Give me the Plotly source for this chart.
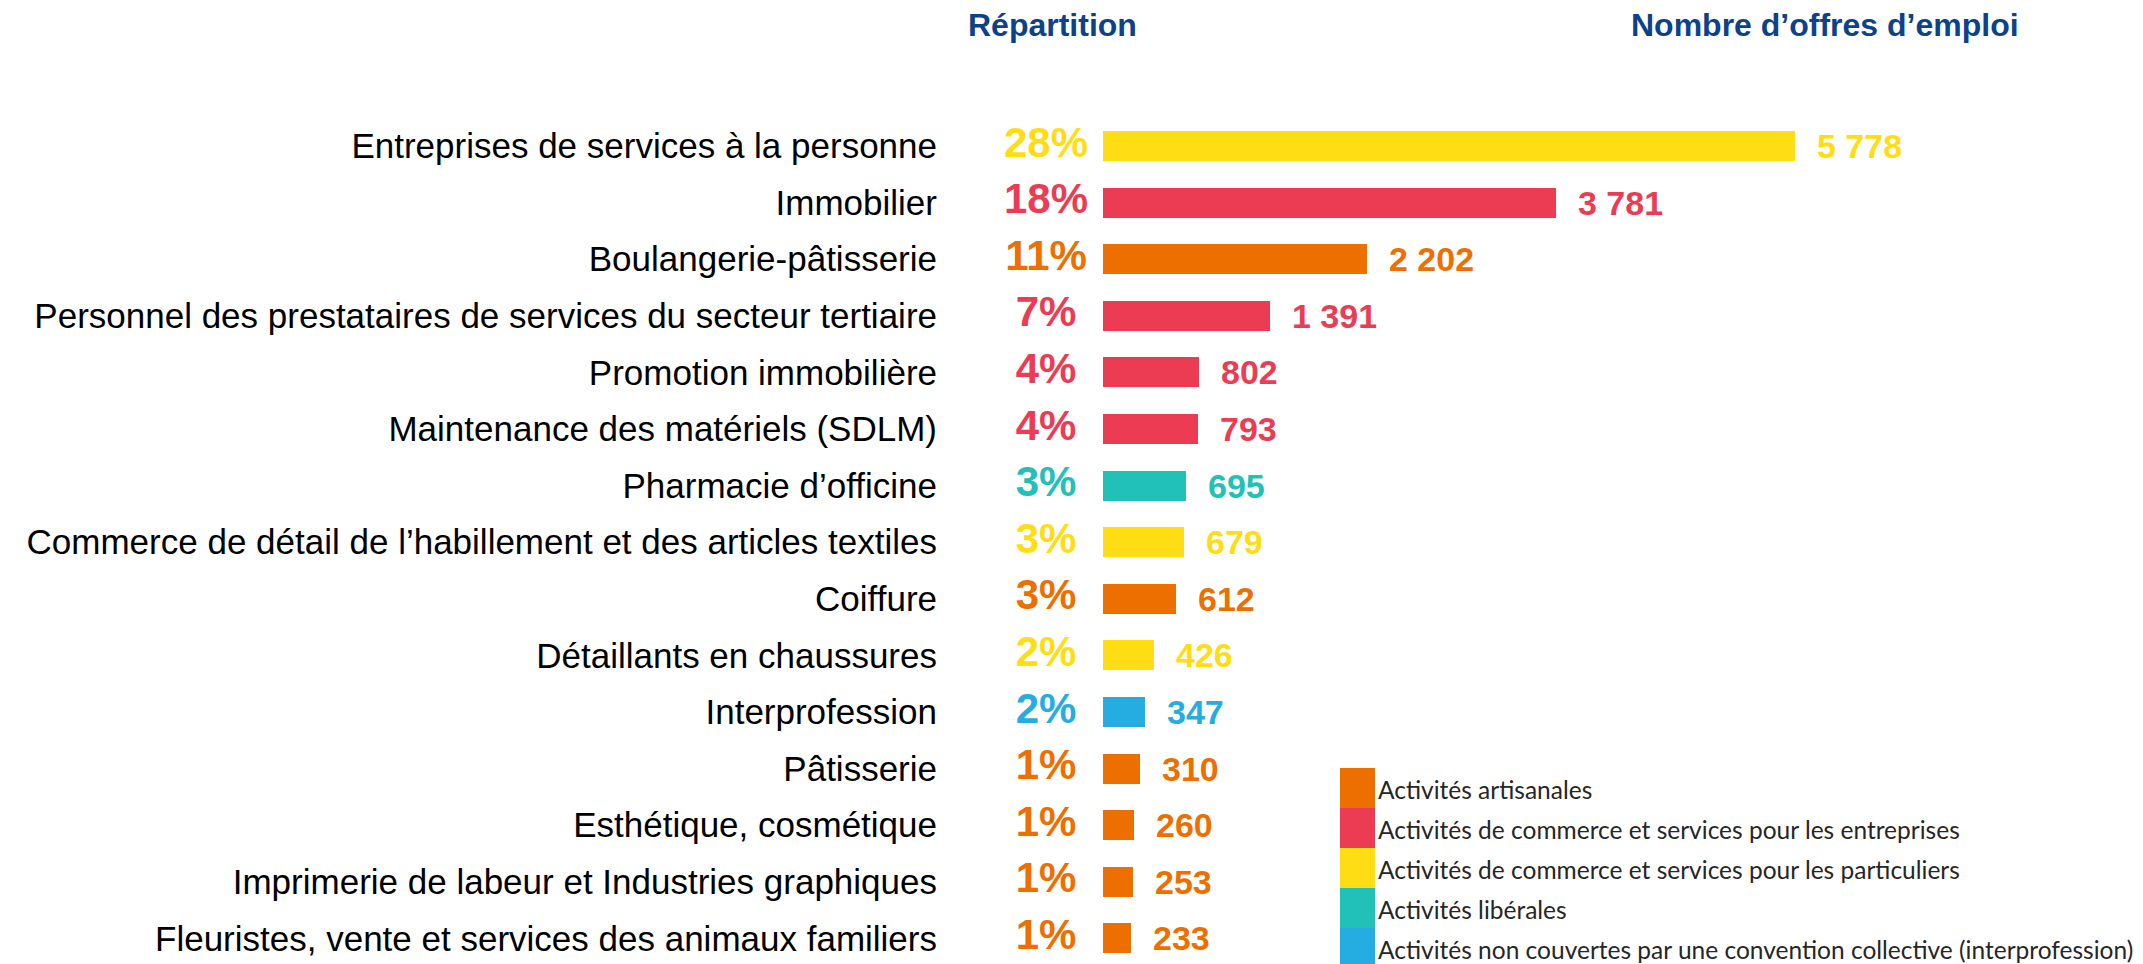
import plotly.graph_objects as go

# ---- data ----
categories = [
    "Entreprises de services à la personne",
    "Immobilier",
    "Boulangerie-pâtisserie",
    "Personnel des prestataires de services du secteur tertiaire",
    "Promotion immobilière",
    "Maintenance des matériels (SDLM)",
    "Pharmacie d’officine",
    "Commerce de détail de l’habillement et des articles textiles",
    "Coiffure",
    "Détaillants en chaussures",
    "Interprofession",
    "Pâtisserie",
    "Esthétique, cosmétique",
    "Imprimerie de labeur et Industries graphiques",
    "Fleuristes, vente et services des animaux familiers",
]
offers = [5778, 3781, 2202, 1391, 802, 793, 695, 679, 612, 426, 347, 310, 260, 253, 233]
shares = [28, 18, 11, 7, 4, 4, 3, 3, 3, 2, 2, 1, 1, 1, 1]
groups = ["P", "E", "A", "E", "E", "E", "L", "P", "A", "P", "I", "A", "A", "A", "A"]

group_keys = ["A", "E", "P", "L", "I"]
group_labels = [
    "Activités artisanales",
    "Activités de commerce et services pour les entreprises",
    "Activités de commerce et services pour les particuliers",
    "Activités libérales",
    "Activités non couvertes par une convention collective (interprofession)",
]
group_colors = ["#EC6F00", "#EC3C53", "#FFDD15", "#21C1B8", "#25ADE2"]

col_headers = ["Répartition", "Nombre d’offres d’emploi"]

# ---- layout geometry (page pixels; the page body adds an 8px offset) ----
OFF = 8
W, H = 2143, 964
PLOT_L, PLOT_R, PLOT_T, PLOT_B = 1000, 2100, 100, 960  # page pixels
ML, MT = PLOT_L - OFF, PLOT_T - OFF
MR, MB = W - (PLOT_R - OFF), H - (PLOT_B - OFF)
PW, PH = PLOT_R - PLOT_L, PLOT_B - PLOT_T
ROW0, ROW_STEP = 146, 56.6


def px_x(px):
    return (px - PLOT_L) / PW


def px_y(py):
    return 1 - (py - PLOT_T) / PH


color_of = dict(zip(group_keys, group_colors))
bar_colors = [color_of[g] for g in groups]

FONT = "Arial, Liberation Sans, sans-serif"
PCT_X = -476  # data position of the percentage column

fig = go.Figure()
fig.add_trace(go.Bar(
    y=categories, x=offers, orientation="h",
    marker=dict(color=bar_colors, line=dict(width=0)),
    width=0.53, showlegend=False, hoverinfo="x+y",
))
fig.add_trace(go.Scatter(
    y=categories, x=[PCT_X] * len(categories), mode="text",
    text=[f"{s}%" for s in shares], textposition="middle center",
    textfont=dict(family=FONT, size=42, color=bar_colors, weight="bold"),
    showlegend=False, hoverinfo="skip", cliponaxis=False,
))

annotations = []
for c, v, col in zip(categories, offers, bar_colors):
    annotations.append(dict(
        x=v, y=c, xref="x", yref="y", xanchor="left", yanchor="middle",
        xshift=20, showarrow=False,
        text=f"{v:,}".replace(",", " "),
        font=dict(family=FONT, size=34, color=col, weight="bold"),
    ))

# column headers
for hx, txt in zip([1052, 1825], col_headers):
    annotations.append(dict(
        x=px_x(hx), y=px_y(25), xref="paper", yref="paper",
        xanchor="center", yanchor="middle", showarrow=False,
        text=txt, font=dict(family=FONT, size=32, color="#0D4289", weight="bold"),
    ))

# custom legend
shapes = []
LEG_X0, LEG_X1, LEG_TOP, LEG_H = 1340, 1375, 768, 40
for i, (lab, col) in enumerate(zip(group_labels, group_colors)):
    top = LEG_TOP + i * LEG_H
    shapes.append(dict(
        type="rect", xref="paper", yref="paper",
        x0=px_x(LEG_X0), x1=px_x(LEG_X1), y0=px_y(top + LEG_H), y1=px_y(top),
        fillcolor=col, line=dict(width=0), layer="above",
    ))
    annotations.append(dict(
        x=px_x(LEG_X1 + 1), y=px_y(top + LEG_H / 2 + 1), xref="paper", yref="paper",
        xanchor="left", yanchor="middle", showarrow=False,
        text=lab, font=dict(family="Lato, Carlito, sans-serif", size=24.5, color="#262626"),
    ))

y_top = -(ROW0 - PLOT_T) / ROW_STEP
y_bot = (PLOT_B - ROW0) / ROW_STEP

fig.update_layout(
    width=W, height=H,
    margin=dict(l=ML, r=MR, t=MT, b=MB, pad=0),
    paper_bgcolor="white", plot_bgcolor="white",
    xaxis=dict(range=[-860, 8322], visible=False, fixedrange=True),
    yaxis=dict(
        type="category", categoryorder="array", categoryarray=categories,
        range=[y_bot, y_top], showgrid=False, showline=False, zeroline=False,
        ticks="", ticklabelstandoff=62,
        tickfont=dict(family=FONT, size=35, color="#000000"),
        fixedrange=True,
    ),
    annotations=annotations, shapes=shapes,
    bargap=0,
)

fig.write_html("out.html")
